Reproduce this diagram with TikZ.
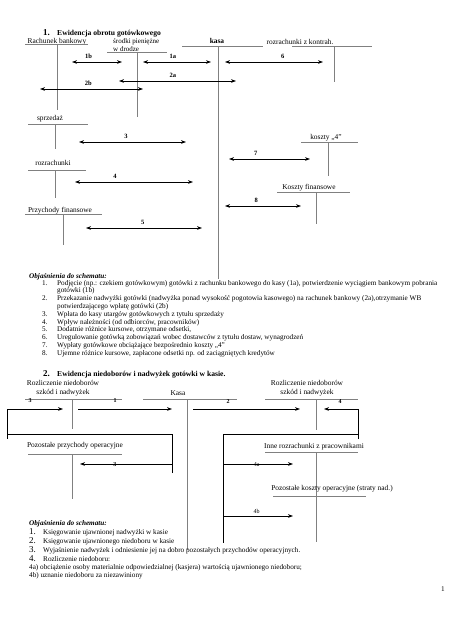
\documentclass[tikz,border=0pt]{standalone}
\usepackage{fontspec}
\setmainfont{Liberation Serif}
\usetikzlibrary{arrows.meta, positioning}
\tikzset{
x=1pt, y=-1pt, % one unit per pixel of the page, y running down
>={Stealth[length=5pt, width=3.6pt]}, % small filled arrow heads
tline/.style={draw=black!50, line width=0.8pt}, % lines of the T accounts
flow/.style={->, draw=black, line width=0.65pt}, % one way postings
both/.style={<->, draw=black, line width=0.65pt}, % two way postings
acct/.style={font=\fontsize{7.4}{8.6}\selectfont, inner sep=0pt, anchor=base},
lbl/.style={font=\bfseries\fontsize{6.5}{7}\selectfont, above=3pt, inner sep=0pt},
num/.style={font=\bfseries\fontsize{6}{7}\selectfont, inner sep=0pt},
note/.style={font=\fontsize{7.2}{7.8}\selectfont, inner sep=0pt, anchor=base west, align=left},
}

\begin{document}
\begin{tikzpicture}
\useasboundingbox (0,0) rectangle (474,632);

% part 1
\node[anchor=base west, inner sep=0pt, font=\bfseries\fontsize{7.6}{9}\selectfont] (title1) at (43,35)
  {\makebox[14pt][l]{\fontsize{9}{9}\selectfont 1.}Ewidencja obrotu gotówkowego};

\node[acct] (bank) at (57,43) {Rachunek bankowy};
\draw[tline] (25,44.5) -- (88,44.5) (57,44.5) -- (57,110);
\node[acct, anchor=base west, align=left, font=\fontsize{7}{7.4}\selectfont] (drodze) at (113,51) {środki pieniężne\\w drodze};
\draw[tline] (107,52.5) -- (167,52.5) (137,52.5) -- (137,117);
\node[acct, font=\bfseries\fontsize{7.4}{8.4}\selectfont] (kasa) at (217,43.5) {kasa};
\draw[tline] (182,46) -- (263,46) (218,46) -- (218,279);
\node[acct] (kontrah) at (300,44) {rozrachunki z kontrah.};
\draw[tline] (292,46) -- (372,46) (334,46) -- (334,82);
\node[acct] (sprzedaz) at (50,120.5) {sprzedaż};
\draw[tline] (28,124) -- (88,124) (55,124) -- (55,149);
\node[acct] (rozr) at (53,165.5) {rozrachunki};
\draw[tline] (28,170) -- (86,170) (55,170) -- (55,198);
\node[acct] (przfin) at (60,212) {Przychody finansowe};
\draw[tline] (25,214) -- (102,214) (63,214) -- (63,245);
\node[acct] (koszty) at (326,139.5) {koszty „4”};
\draw[tline] (301,142) -- (358,142) (328,142) -- (328,176);
\node[acct] (kfin) at (309,189.5) {Koszty finansowe};
\draw[tline] (277,192) -- (350,192) (316,192) -- (316,224);

\coordinate (a1b) at (72,62);  \coordinate (b1b) at (122,62);
\coordinate (a1a) at (143,62); \coordinate (b1a) at (211,62);
\coordinate (a6) at (225,62);  \coordinate (b6) at (323,62);
\coordinate (a2a) at (119,81); \coordinate (b2a) at (236,81);
\coordinate (a2b) at (40,89);  \coordinate (b2b) at (143,89);
\coordinate (a3) at (79,142);  \coordinate (b3) at (186,142);
\coordinate (a4) at (75,182);  \coordinate (b4) at (193,182);
\coordinate (a5) at (86,228);  \coordinate (b5) at (202,228);
\coordinate (a7) at (229,159); \coordinate (b7) at (310,159);
\coordinate (a8) at (225,206); \coordinate (b8) at (301,206);

\draw (a1b) edge[both] node[lbl, pos=.33]{1b} (b1b)
  (a1a) edge[both] node[lbl, pos=.44]{1a} (b1a)
  (a6) edge[both] node[lbl, pos=.59]{6} (b6)
  (a2a) edge[both] node[lbl, pos=.46]{2a} (b2a)
  (a2b) edge[both] node[lbl, pos=.47]{2b} (b2b)
  (a3) edge[both] node[lbl, pos=.44]{3} (b3)
  (a4) edge[both] node[lbl, pos=.34]{4} (b4)
  (a5) edge[both] node[lbl, pos=.49]{5} (b5)
  (a7) edge[both] node[lbl, pos=.33]{7} (b7)
  (a8) edge[both] node[lbl, pos=.41]{8} (b8);

\node[note, font=\bfseries\itshape\fontsize{7.2}{7.8}\selectfont] (head1) at (29,278) {Objaśnienia do schematu:};
\node[note] (list1) at (42,285) {\begin{tabular}[t]{@{}p{15pt}@{}l@{}}
1. & Podjęcie (np.: czekiem gotówkowym) gotówki z rachunku bankowego do kasy (1a), potwierdzenie wyciągiem bankowym pobrania\\
   & gotówki (1b)\\
2. & Przekazanie nadwyżki gotówki (nadwyżka ponad wysokość pogotowia kasowego) na rachunek bankowy (2a),otrzymanie WB\\
   & potwierdzającego wpłatę gotówki (2b)\\
3. & Wpłata do kasy utargów gotówkowych z tytułu sprzedaży\\
4. & Wpływ należności (od odbiorców, pracowników)\\
5. & Dodatnie różnice kursowe, otrzymane odsetki,\\
6. & Uregulowanie gotówką zobowiązań wobec dostawców z tytułu dostaw, wynagrodzeń\\
7. & Wypłaty gotówkowe obciążające bezpośrednio koszty „4”\\
8. & Ujemne różnice kursowe, zapłacone odsetki np. od zaciągniętych kredytów
\end{tabular}};

% part 2
\node[anchor=base west, inner sep=0pt, font=\bfseries\fontsize{7.6}{9}\selectfont] (title2) at (43,376)
  {\makebox[14pt][l]{\fontsize{9}{9}\selectfont 2.}Ewidencja niedoborów i nadwyżek gotówki w kasie.};

\node[acct, align=center] (rozl1) at (63,394) {Rozliczenie niedoborów\\szkód i nadwyżek};
\draw[tline] (25,399) -- (122,399) (72,399) -- (72,429);
\node[acct] (kasa2) at (178,395) {Kasa};
\draw[tline] (143,399) -- (237,399) (187,399) -- (187,550);
\node[acct, align=center] (rozl2) at (307,394) {Rozliczenie niedoborów\\szkód i nadwyżek};
\draw[tline] (265,399) -- (358,399) (316,399) -- (316,430);
\node[acct] (ppo) at (75,447) {Pozostałe przychody operacyjne};
\draw[tline] (28,454) -- (122,454) (72,454) -- (72,499);
\node[acct] (inne) at (314,448) {Inne rozrachunki z pracownikami};
\draw[tline] (265,452) -- (358,452) (316,452) -- (316,542);
\node[acct] (pko) at (332,490) {Pozostałe koszty operacyjne (straty nad.)};
\draw[tline] (273,496) -- (366,496);

\node[num] (n3) at (30,401) {3};
\node[num] (n1) at (115,401) {1};
\node[num] (n2) at (228,402) {2};
\node[num] (n4) at (340,402) {4};

\coordinate (s1) at (78,409);   \coordinate (e1) at (172,409);
\coordinate (s2) at (193,409);  \coordinate (e2) at (300,409);
\coordinate (k3a) at (172,473); \coordinate (k3b) at (172,434);
\coordinate (k3c) at (7,434);   \coordinate (k3d) at (7,409);
\coordinate (e3) at (63,409);   \coordinate (s3) at (172,464);
\coordinate (e3b) at (80,464);
\coordinate (k4a) at (358,439); \coordinate (k4b) at (358,409);
\coordinate (e4) at (324,409);  \coordinate (k4c) at (223,434);
\coordinate (k4d) at (223,543); \coordinate (k4e) at (358,434);
\coordinate (s4a) at (223,464); \coordinate (e4a) at (293,464);
\coordinate (s4b) at (223,516); \coordinate (e4b) at (293,516);

\draw[flow] (s1) -- (e1);
\draw[flow] (s2) -- (e2);
\draw[flow] (k3a) -- (k3b) -- (k3c) -- (k3d) -- (e3);
\draw[line width=0.65pt] (k3c) -- ++(0,5);
\draw[flow] (s3) -- node[num, pos=.62, yshift=-1pt]{3} (e3b);
\draw[flow] (k4a) -- (k4b) -- (e4);
\draw[line width=0.65pt] (k4c) -- (k4e) (k4c) -- (k4d);
\draw[flow] (s4a) -- node[num, pos=.48, yshift=-1pt, font=\fontsize{6}{7}\selectfont]{4a} (e4a);
\draw[flow] (s4b) -- node[num, pos=.48, above=2pt, font=\fontsize{6}{7}\selectfont]{4b} (e4b);

\node[note, font=\bfseries\itshape\fontsize{7.2}{7.8}\selectfont] (head2) at (29,525) {Objaśnienia do schematu:};
\node[note] (list2) at (29,534) {\begin{tabular}[t]{@{}p{14pt}@{}l@{}}
\smash{\fontsize{9}{9}\selectfont 1.} & Księgowanie ujawnionej nadwyżki w kasie\\[1.5pt]
\smash{\fontsize{9}{9}\selectfont 2.} & Księgowanie ujawnionego niedoboru w kasie\\[1.5pt]
\smash{\fontsize{9}{9}\selectfont 3.} & Wyjaśnienie nadwyżek i odniesienie jej na dobro pozostałych przychodów operacyjnych.\\[1.5pt]
\smash{\fontsize{9}{9}\selectfont 4.} & Rozliczenie niedoboru:\\[0.2pt]
\multicolumn{2}{@{}l@{}}{4a) obciążenie osoby materialnie odpowiedzialnej (kasjera) wartością ujawnionego niedoboru;}\\
\multicolumn{2}{@{}l@{}}{4b) uznanie niedoboru za niezawiniony}
\end{tabular}};

\node[note] (page) at (441,591) {1};
\end{tikzpicture}
\end{document}
